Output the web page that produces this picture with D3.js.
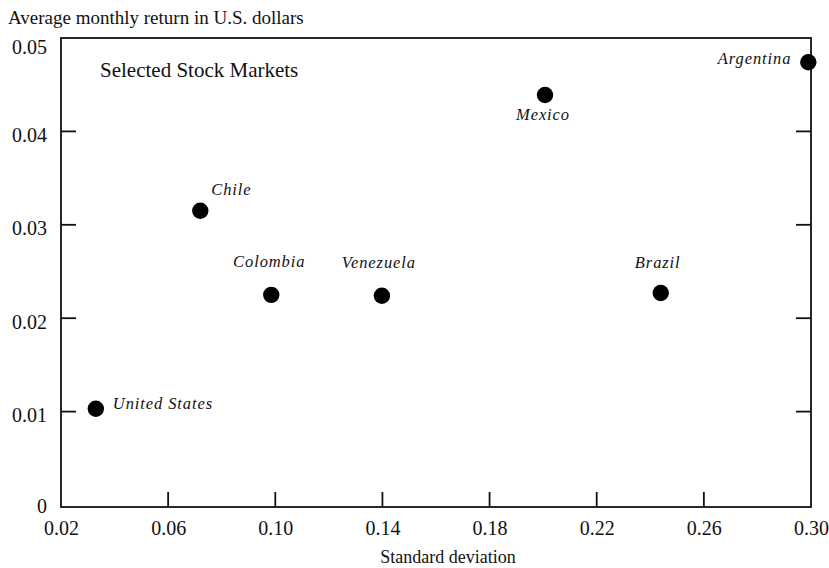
<!DOCTYPE html>
<html>
<head>
<meta charset="utf-8">
<script src="https://cdn.jsdelivr.net/npm/d3@7"></script>
<style>
  html, body { margin: 0; padding: 0; background: #fff; }
  svg { display: block; }
  text { font-family: "Liberation Serif", "Times New Roman", serif; fill: #111; }
</style>
</head>
<body>
<svg id="chart" width="829" height="568"></svg>
<script>
// ---- Data ----
const countries = ["United States", "Chile", "Colombia", "Venezuela", "Mexico", "Brazil", "Argentina"];
const stdDev =    [0.033, 0.072, 0.0985, 0.1398, 0.2007, 0.2439, 0.299];
const avgReturn = [0.0103, 0.0315, 0.0225, 0.0224, 0.0439, 0.0227, 0.0474];
const xTicks = [0.02, 0.06, 0.10, 0.14, 0.18, 0.22, 0.26, 0.30];
const yTicks = [0, 0.01, 0.02, 0.03, 0.04, 0.05];
const xTickLabels = ["0.02", "0.06", "0.10", "0.14", "0.18", "0.22", "0.26", "0.30"];
const yTickLabels = ["0", "0.01", "0.02", "0.03", "0.04", "0.05"];
// label placement: [anchor, dx, dy]
const labelPos = {
  "United States": ["start", 17, 0],
  "Chile": ["start", 11, -16],
  "Colombia": ["middle", -2, -28],
  "Venezuela": ["middle", -3, -28],
  "Mexico": ["middle", -2, 25],
  "Brazil": ["middle", -3, -25],
  "Argentina": ["end", -17, 2]
};

(function () {
const svg = d3.select("#chart");
const pLeft = 61, pRight = 811, pTop = 38, pBottom = 507;

const x = d3.scaleLinear().domain([0.02, 0.30]).range([pLeft, pRight]);
const y = d3.scaleLinear().domain([0, 0.05]).range([505, pTop]);

const tickLen = 15;
const g = svg.append("g");

// frame
g.append("rect")
  .attr("x", pLeft).attr("y", pTop)
  .attr("width", pRight - pLeft).attr("height", pBottom - pTop)
  .attr("fill", "none").attr("stroke", "#111").attr("stroke-width", 1.8);

// bottom axis
const xAxis = d3.axisBottom(x).tickValues(xTicks)
  .tickSize(0).tickPadding(0)
  .tickFormat((d, i) => xTickLabels[i]);
const gx = g.append("g").attr("transform", `translate(0,${pBottom})`).call(xAxis);
gx.select(".domain").remove();
gx.selectAll(".tick text").attr("y", 28).attr("dy", 0)
  .style("font-family", "Liberation Serif, serif").style("font-size", "20px").attr("fill", "#111");
g.selectAll(".xtick").data(xTicks.slice(1, -1)).enter().append("line")
  .attr("x1", d => x(d)).attr("x2", d => x(d))
  .attr("y1", pBottom).attr("y2", pBottom - tickLen)
  .attr("stroke", "#111").attr("stroke-width", 1.8);

// left axis
const yAxis = d3.axisLeft(y).tickValues(yTicks)
  .tickSize(0).tickPadding(14)
  .tickFormat((d, i) => yTickLabels[i]);
const gy = g.append("g").attr("transform", `translate(${pLeft},0)`).call(yAxis);
gy.select(".domain").remove();
gy.selectAll(".tick text")
  .attr("dy", d => d === 0.05 ? "15px" : (d === 0 ? "7px" : "10px"))
  .style("font-family", "Liberation Serif, serif").style("font-size", "20px").attr("fill", "#111");
const innerY = yTicks.slice(1, -1);
g.selectAll(".ytickL").data(innerY).enter().append("line")
  .attr("x1", pLeft).attr("x2", pLeft + tickLen)
  .attr("y1", d => y(d)).attr("y2", d => y(d))
  .attr("stroke", "#111").attr("stroke-width", 1.8);
g.selectAll(".ytickR").data(innerY).enter().append("line")
  .attr("x1", pRight).attr("x2", pRight - tickLen)
  .attr("y1", d => y(d)).attr("y2", d => y(d))
  .attr("stroke", "#111").attr("stroke-width", 1.8);

// points
const data = countries.map((c, i) => ({ name: c, sd: stdDev[i], ret: avgReturn[i] }));
g.selectAll(".pt").data(data).enter().append("circle")
  .attr("cx", d => x(d.sd)).attr("cy", d => y(d.ret))
  .attr("r", 8.2).attr("fill", "#000");

g.selectAll(".lbl").data(data).enter().append("text")
  .attr("x", d => x(d.sd) + labelPos[d.name][1])
  .attr("y", d => y(d.ret) + labelPos[d.name][2])
  .attr("text-anchor", d => labelPos[d.name][0])
  .style("font-style", "italic").style("font-size", "16.5px").style("letter-spacing", "0.9px")
  .text(d => d.name);

// texts
svg.append("text").attr("x", 100).attr("y", 77)
  .style("font-size", "21px").text("Selected Stock Markets");
svg.append("text").attr("x", 8).attr("y", 24)
  .style("font-size", "19px").text("Average monthly return in U.S. dollars");
svg.append("text").attr("x", 448).attr("y", 563).attr("text-anchor", "middle")
  .style("font-size", "18px").text("Standard deviation");
})();
</script>
</body>
</html>
